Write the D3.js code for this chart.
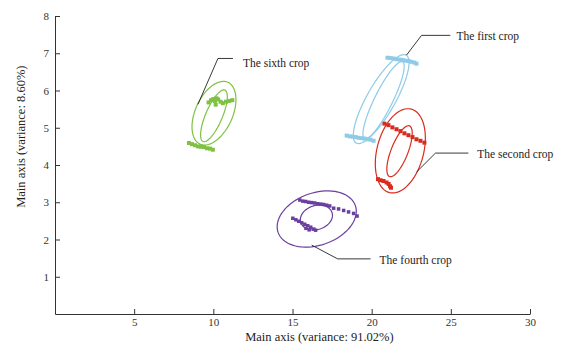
<!DOCTYPE html>
<html>
<head>
<meta charset="utf-8">
<script src="https://cdn.jsdelivr.net/npm/d3@7"></script>
<style>
    body { margin: 0; background: #ffffff; }
    text { font-family: "Liberation Serif", "Times New Roman", serif; fill: #222; }
    .axis path, .axis line { stroke: #333; stroke-width: 1; }
    .axis text { font-size: 11px; fill: #333; }
    .label { font-size: 11.5px; }
    .title { font-size: 12.5px; }
</style>
</head>
<body>
<div id="chart"></div>
<script>
// tick values
const xTicks = [5, 10, 15, 20, 25, 30];
const yTicks = [1, 2, 3, 4, 5, 6, 7, 8];

// crop names
const cropNames = ["The first crop", "The second crop", "The fourth crop", "The sixth crop"];

// point clusters, [x, y]
const firstCropPoints = [
    [21.0, 6.88], [21.19, 6.87], [21.38, 6.86], [21.57, 6.84], [21.76, 6.83], [21.95, 6.82],
    [22.14, 6.80], [22.33, 6.79], [22.51, 6.77], [22.70, 6.75], [22.83, 6.72],
    [18.42, 4.79], [18.61, 4.77], [18.80, 4.76], [18.99, 4.75], [19.17, 4.73],
    [19.36, 4.72], [19.55, 4.71], [19.74, 4.69], [19.93, 4.68], [20.12, 4.65]
];
const secondCropPoints = [
    [20.81, 5.11], [21.06, 5.07], [21.31, 5.01], [21.57, 4.96], [21.82, 4.91], [22.07, 4.85],
    [22.32, 4.80], [22.58, 4.75], [22.83, 4.69], [23.08, 4.65], [23.33, 4.60],
    [20.40, 3.62], [20.56, 3.59], [20.75, 3.57], [20.94, 3.53], [21.07, 3.49], [21.16, 3.43], [21.22, 3.39]
];
const fourthCropPoints = [
    [15.46, 3.06], [15.65, 3.03], [15.83, 3.02], [16.02, 3.00], [16.21, 2.99], [16.40, 2.98],
    [16.59, 2.96], [16.78, 2.95], [16.97, 2.94], [17.16, 2.92], [17.35, 2.90], [17.60, 2.84],
    [17.91, 2.82], [18.23, 2.78], [18.54, 2.74], [18.86, 2.70], [19.08, 2.63],
    [15.02, 2.57], [15.21, 2.53], [15.39, 2.49], [15.58, 2.45], [15.77, 2.41], [15.96, 2.37],
    [16.15, 2.33], [16.34, 2.28], [16.46, 2.25], [15.85, 2.30], [16.05, 2.26]
];
const sixthCropPoints = [
    [9.70, 5.68], [9.85, 5.74], [10.0, 5.77], [10.1, 5.72], [10.2, 5.79], [10.3, 5.76],
    [10.15, 5.62], [10.45, 5.70], [10.6, 5.66], [10.8, 5.70], [11.0, 5.72], [11.2, 5.74],
    [8.46, 4.59], [8.65, 4.56], [8.84, 4.53], [9.03, 4.50], [9.22, 4.49], [9.41, 4.48],
    [9.60, 4.45], [9.79, 4.44], [9.97, 4.41]
];

// confidence ellipses: centre, end of major axis, minor/major ratio
const firstCropEllipses = [
    {cx: 20.60, cy: 5.77, tx: 22.18, ty: 6.95, ratio: 0.28},
    {cx: 20.75, cy: 5.74, tx: 21.95, ty: 6.77, ratio: 0.21}
];
const secondCropEllipses = [
    {cx: 21.81, cy: 4.38, tx: 22.50, ty: 5.50, ratio: 0.54},
    {cx: 21.76, cy: 4.37, tx: 22.39, ty: 5.05, ratio: 0.31}
];
const fourthCropEllipses = [
    {cx: 16.53, cy: 2.55, tx: 18.97, ty: 2.91, ratio: 0.64},
    {cx: 16.51, cy: 2.59, tx: 17.50, ty: 2.72, ratio: 0.73}
];
const sixthCropEllipses = [
    {cx: 10.04, cy: 5.39, tx: 10.92, ty: 6.22, ratio: 0.55},
    {cx: 10.04, cy: 5.32, tx: 10.73, ty: 6.01, ratio: 0.30}
];

// leader lines: [text anchor, elbow, tip]
const firstCropLeader = [[24.97, 7.48], [23.15, 7.48], [22.20, 6.95]];
const secondCropLeader = [[26.11, 4.32], [24.03, 4.32], [22.83, 3.81]];
const fourthCropLeader = [[19.93, 1.48], [17.85, 1.48], [16.21, 1.85]];
const sixthCropLeader = [[11.24, 6.86], [10.29, 6.86], [9.03, 5.63]];

// label text positions
const firstCropLabel = [25.35, 7.36];
const secondCropLabel = [26.67, 4.18];
const fourthCropLabel = [20.50, 1.34];
const sixthCropLabel = [11.87, 6.63];

function cropScatter(graphID) {
    // Set up svg dimensions
    let margin = {top: 16, right: 45, bottom: 43, left: 55},
        width = 575 - margin.left - margin.right,
        height = 357 - margin.top - margin.bottom;

    let svg = d3.select(graphID).append('svg')
        .attr("width", width + margin.left + margin.right)
        .attr("height", height + margin.top + margin.bottom);

    let svg_adjusted = svg.append("g")
        .attr("transform", "translate(" + margin.left + "," + margin.top + ")");

    let xScale = d3.scaleLinear().domain([0, 30]).range([0, width]),
        yScale = d3.scaleLinear().domain([0, 8]).range([height, 0]);

    let xAxis = d3.axisBottom(xScale)
        .tickValues(xTicks)
        .tickSizeInner(-5)
        .tickSizeOuter(0)
        .tickPadding(4);

    let yAxis = d3.axisLeft(yScale)
        .tickValues(yTicks)
        .tickSizeInner(-5)
        .tickSizeOuter(0)
        .tickPadding(6);

    svg_adjusted.append('g')
        .attr('transform', 'translate(0,' + height + ')')
        .attr('class', 'x axis')
        .call(xAxis);

    svg_adjusted.append('g')
        .attr('class', 'y axis')
        .call(yAxis);

    // axis titles
    svg_adjusted.append('text')
        .attr('class', 'title')
        .attr('x', xScale(16.7))
        .attr('y', height + 27)
        .attr('text-anchor', 'middle')
        .text('Main axis (variance: 91.02%)');

    svg_adjusted.append('text')
        .attr('class', 'title')
        .attr('transform', 'translate(-30,' + yScale(4.76) + ') rotate(-90)')
        .attr('text-anchor', 'middle')
        .text('Main axis (variance: 8.60%)');

    let crops = [
        {name: cropNames[0], color: "#8ecbe9", points: firstCropPoints, ellipses: firstCropEllipses,
            leader: firstCropLeader, label: firstCropLabel, size: 4},
        {name: cropNames[1], color: "#d92b1e", points: secondCropPoints, ellipses: secondCropEllipses,
            leader: secondCropLeader, label: secondCropLabel, size: 4},
        {name: cropNames[2], color: "#6b3fa0", points: fourthCropPoints, ellipses: fourthCropEllipses,
            leader: fourthCropLeader, label: fourthCropLabel, size: 3.5},
        {name: cropNames[3], color: "#7fc241", points: sixthCropPoints, ellipses: sixthCropEllipses,
            leader: sixthCropLeader, label: sixthCropLabel, size: 4}
    ];

    let ellipseLine = d3.line().curve(d3.curveLinearClosed);
    let leaderLine = d3.line()
        .x(function (d) { return xScale(d[0]); })
        .y(function (d) { return yScale(d[1]); });

    function ellipsePath(e) {
        let cx = xScale(e.cx), cy = yScale(e.cy);
        let ax = xScale(e.tx) - cx, ay = yScale(e.ty) - cy;
        let bx = -ay * e.ratio, by = ax * e.ratio;
        let pts = d3.range(0, 72).map(function (i) {
            let t = i / 72 * 2 * Math.PI;
            return [cx + ax * Math.cos(t) + bx * Math.sin(t), cy + ay * Math.cos(t) + by * Math.sin(t)];
        });
        return ellipseLine(pts);
    }

    crops.forEach(function (crop) {
        let g = svg_adjusted.append('g');

        g.selectAll('.ellipse')
            .data(crop.ellipses)
            .enter().append('path')
            .attr('class', 'ellipse')
            .attr('d', ellipsePath)
            .attr('fill', 'none')
            .attr('stroke', crop.color)
            .attr('stroke-width', 1.2);

        g.selectAll('.point')
            .data(crop.points)
            .enter().append('rect')
            .attr('class', 'point')
            .attr('x', function (d) { return xScale(d[0]) - crop.size / 2; })
            .attr('y', function (d) { return yScale(d[1]) - crop.size / 2; })
            .attr('width', crop.size)
            .attr('height', crop.size)
            .attr('fill', crop.color);

        svg_adjusted.append('path')
            .attr('d', leaderLine(crop.leader))
            .attr('fill', 'none')
            .attr('stroke', '#222')
            .attr('stroke-width', 0.9);

        svg_adjusted.append('text')
            .attr('class', 'label')
            .attr('x', xScale(crop.label[0]))
            .attr('y', yScale(crop.label[1]))
            .text(crop.name);
    });
}

cropScatter('#chart');
</script>
</body>
</html>
